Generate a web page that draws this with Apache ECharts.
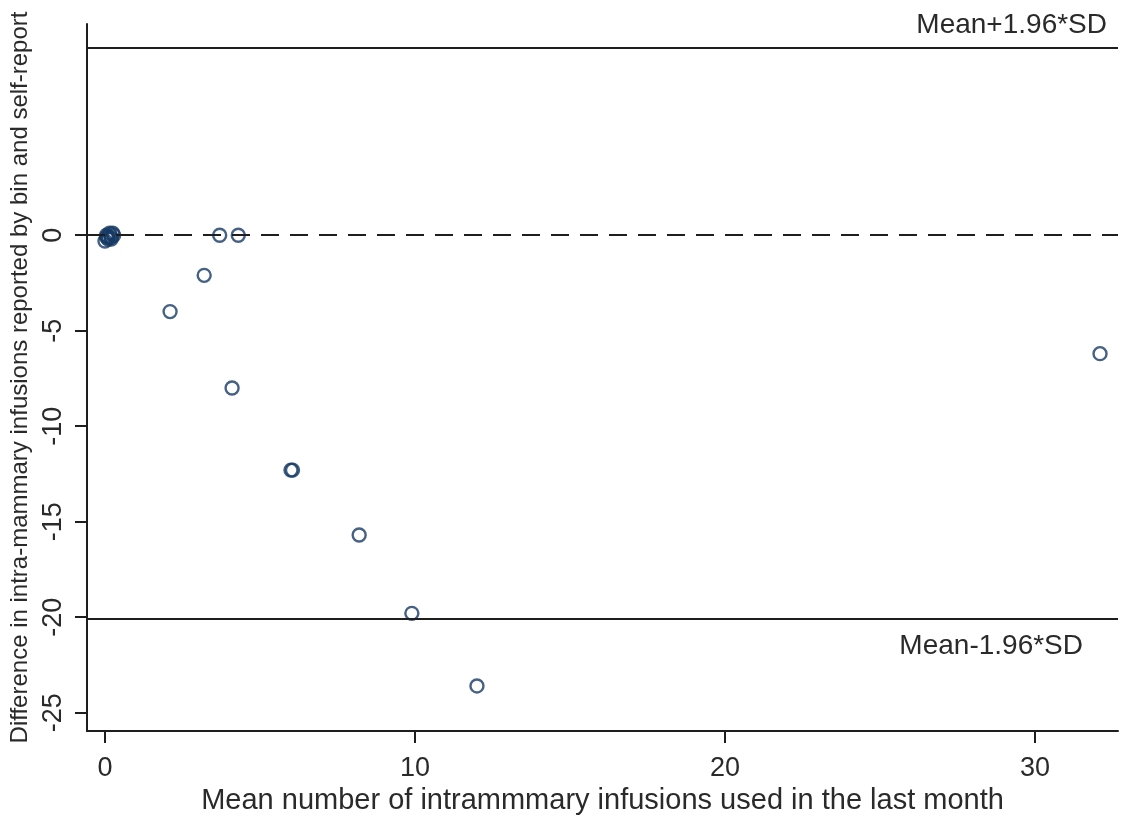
<!DOCTYPE html>
<html>
<head>
<meta charset="utf-8">
<title>Bland-Altman plot: intramammary infusions</title>
<script src="https://cdn.jsdelivr.net/npm/echarts@6/dist/echarts.min.js"></script>
<style>
  html, body { margin: 0; padding: 0; background: #fff; }
  #chart { width: 1127px; height: 817px; }
</style>
</head>
<body>
<div id="chart"></div>
<script>
// Mean of the two methods (x) and their difference, bin minus self-report (y)
const meanInfusions = [0.0, 0.05, 0.15, 0.2, 0.28, 0.25, 0.1, 0.1, 0.2, 0.05, 3.7, 4.3, 3.2, 2.1, 4.1, 6.0, 6.05, 8.2, 9.9, 12.0, 32.1];
const diffInfusions = [-0.3, 0.0, 0.1, -0.1, 0.0, 0.1, -0.2, -0.1, -0.2, -0.1, 0.0, 0.0, -2.1, -4.0, -8.0, -12.3, -12.3, -15.7, -19.8, -23.6, -6.2];

// Limits of agreement and the zero-difference reference
const upperLimit = 9.8;
const lowerLimit = -20.1;
const zeroLine = 0;

// Tick values shown on each axis
const xTicks = [0, 10, 20, 30];
const yTicks = [-25, -20, -15, -10, -5, 0];

const points = meanInfusions.map((m, i) => [m, diffInfusions[i]]);

const INK = '#1e1e1e';
const TEXT = '#2a2a2a';
const MARKER = '#173a64';
const FONT = 'Liberation Sans, Arial, sans-serif';

const chart = echarts.init(document.getElementById('chart'), null, { renderer: 'canvas' });

chart.setOption({
  animation: false,
  backgroundColor: '#ffffff',
  grid: { left: 87, right: 9, top: 24, bottom: 86, containLabel: false, outerBoundsMode: 'none' },
  xAxis: {
    type: 'value',
    min: -0.58,
    max: 32.68,
    name: 'Mean number of intrammmary infusions used in the last month',
    nameLocation: 'middle',
    nameGap: 45,
    nameTextStyle: { color: TEXT, fontSize: 29, fontFamily: FONT },
    axisLine: { show: true, onZero: false, lineStyle: { color: INK, width: 2 } },
    axisTick: { show: true, length: 12, lineStyle: { color: INK, width: 2 }, customValues: xTicks },
    axisLabel: { show: true, margin: 24, color: TEXT, fontSize: 27, fontFamily: FONT, customValues: xTicks },
    splitLine: { show: false }
  },
  yAxis: {
    type: 'value',
    min: -25.96,
    max: 11.06,
    name: 'Difference in intra-mammary infusions reported by bin and self-report',
    nameLocation: 'middle',
    nameGap: 44,
    nameRotate: 90,
    nameTextStyle: { color: TEXT, fontSize: 24, fontFamily: FONT },
    axisLine: { show: true, onZero: false, lineStyle: { color: INK, width: 2 } },
    axisTick: { show: true, length: 12, lineStyle: { color: INK, width: 2 }, customValues: yTicks },
    axisLabel: { show: true, rotate: 90, margin: 20, color: TEXT, fontSize: 27, fontFamily: FONT, customValues: yTicks },
    splitLine: { show: false }
  },
  series: [
    {
      type: 'scatter',
      data: points,
      symbol: 'circle',
      symbolSize: 13,
      itemStyle: { color: 'rgba(255,255,255,0)', borderColor: MARKER, borderWidth: 2.4 },
      z: 3,
      markLine: {
        silent: true,
        symbol: ['none', 'none'],
        animation: false,
        data: [
          {
            yAxis: upperLimit,
            lineStyle: { color: INK, width: 2.2, type: 'solid' },
            label: {
              show: true, position: 'insideEndTop', formatter: 'Mean+1.96*SD',
              color: TEXT, fontSize: 28, fontFamily: FONT, distance: [11, 9]
            }
          },
          {
            yAxis: lowerLimit,
            lineStyle: { color: INK, width: 2.2, type: 'solid' },
            label: {
              show: true, position: 'insideEndBottom', formatter: 'Mean-1.96*SD',
              color: TEXT, fontSize: 28, fontFamily: FONT, distance: [35, 13]
            }
          },
          {
            yAxis: zeroLine,
            lineStyle: { color: INK, width: 2.2, type: [18, 11] },
            label: { show: false }
          }
        ]
      }
    }
  ]
});
</script>
</body>
</html>
